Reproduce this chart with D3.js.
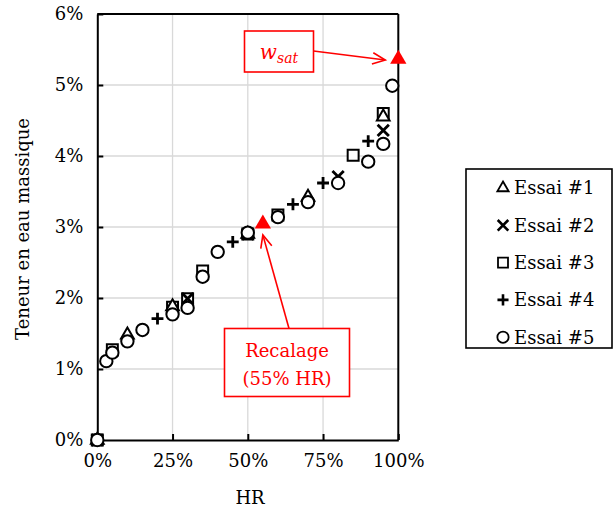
<!DOCTYPE html>
<html><head><meta charset="utf-8">
<script src="https://cdn.jsdelivr.net/npm/d3@7"></script>
<style>body{margin:0;background:#fff}svg{display:block}</style>
</head><body>
<script>
// ---- data ----
const xTicks = [0, 25, 50, 75, 100];
const yTicks = [0, 1, 2, 3, 4, 5, 6];
const seriesNames = ["Essai #1", "Essai #2", "Essai #3", "Essai #4", "Essai #5"];
const hr1 = [0, 10, 25, 50, 70, 95];
const w1  = [0, 1.48, 1.88, 2.90, 3.42, 4.55];
const hr2 = [0, 30, 50, 80, 95];
const w2  = [0, 1.99, 2.90, 3.71, 4.36];
const hr3 = [0, 5, 25, 30, 35, 50, 60, 85, 95];
const w3  = [0, 1.27, 1.87, 1.99, 2.38, 2.90, 3.17, 4.01, 4.60];
const hr4 = [0, 20, 45, 65, 75, 90];
const w4  = [0, 1.71, 2.79, 3.32, 3.62, 4.21];
const hr5 = [0, 3, 5, 10, 15, 25, 30, 35, 40, 50, 60, 70, 80, 90, 95, 98];
const w5  = [0, 1.11, 1.23, 1.39, 1.55, 1.77, 1.86, 2.30, 2.65, 2.92, 3.14, 3.35, 3.62, 3.92, 4.17, 4.99];
const redHR = [55, 100];
const redW  = [3.03, 5.35];
const redLabels = ["Recalage|(55% HR)", "wsat"];

const W = 615, H = 514;
const FONT = "DejaVu Serif";
const svg = d3.select("body").append("svg").attr("width", W).attr("height", H);

const x = d3.scaleLinear().domain([0, 100]).range([97.3, 398.3]);
const y = d3.scaleLinear().domain([0, 6]).range([440, 14]);

// grid
const g = svg.append("g");
g.selectAll(".gx").data(xTicks.slice(1, -1)).join("line")
  .attr("x1", d => x(d)).attr("x2", d => x(d)).attr("y1", y(0)).attr("y2", y(6))
  .attr("stroke", "#d9d9d9").attr("stroke-width", 1.3);
g.selectAll(".gy").data(yTicks.slice(1, -1)).join("line")
  .attr("y1", d => y(d)).attr("y2", d => y(d)).attr("x1", x(0)).attr("x2", x(100))
  .attr("stroke", "#d9d9d9").attr("stroke-width", 1.3);

// frame top/right
svg.append("line").attr("x1", x(0)).attr("x2", x(100)).attr("y1", y(6)).attr("y2", y(6)).attr("stroke", "#000").attr("stroke-width", 2);
svg.append("line").attr("x1", x(100)).attr("x2", x(100)).attr("y1", y(0)).attr("y2", y(6)).attr("stroke", "#000").attr("stroke-width", 2);

// axes
const xAxis = d3.axisBottom(x).tickValues(xTicks).tickFormat(d => d + "%").tickSizeInner(-6).tickSizeOuter(0).tickPadding(14);
const yAxis = d3.axisLeft(y).tickValues(yTicks).tickFormat(d => d + "%").tickSizeInner(-6).tickSizeOuter(0).tickPadding(14);
const gx = svg.append("g").attr("transform", `translate(0,${y(0)})`).call(xAxis);
const gy = svg.append("g").attr("transform", `translate(${x(0)},0)`).call(yAxis);
[gx, gy].forEach(a => {
  a.select(".domain").attr("stroke", "#000").attr("stroke-width", 2);
  a.selectAll(".tick line").attr("stroke", "#000").attr("stroke-width", 2);
  a.selectAll("text").attr("font-family", FONT).attr("font-size", 18).attr("fill", "#000");
});
gx.selectAll("text").attr("dy", "0.71em");

svg.append("text").attr("x", 250).attr("y", 504).attr("text-anchor", "middle")
  .attr("font-family", FONT).attr("font-size", 18).text("HR");
svg.append("text").attr("transform", "translate(29,229) rotate(-90)").attr("text-anchor", "middle")
  .attr("font-family", FONT).attr("font-size", 18).text("Teneur en eau massique");

// markers
const sym = {
  tri: d3.symbol().type(d3.symbolTriangle).size(70),
  sq: d3.symbol().type(d3.symbolSquare).size(120),
  circ: d3.symbol().type(d3.symbolCircle).size(120),
  cross: d3.symbol().type(d3.symbolTimes).size(85),
  plus: d3.symbol().type(d3.symbolPlus).size(48)
};
function drawSeries(hr, w, kind) {
  const pts = hr.map((h, i) => [h, w[i]]);
  const sel = svg.append("g").selectAll("path").data(pts).join("path")
    .attr("transform", d => `translate(${x(d[0])},${y(d[1])})`)
    .attr("d", sym[kind]);
  if (kind === "cross" || kind === "plus") sel.attr("fill", "none").attr("stroke", "#000").attr("stroke-width", 2.8);
  else sel.attr("fill", "#fff").attr("stroke", "#000").attr("stroke-width", 2);
}
const kinds = ["tri", "cross", "sq", "plus", "circ"];
drawSeries(hr3, w3, "sq");
drawSeries(hr1, w1, "tri");
drawSeries(hr2, w2, "cross");
drawSeries(hr4, w4, "plus");
drawSeries(hr5, w5, "circ");

// red triangles
svg.append("g").selectAll("path").data(redHR.map((h, i) => [h, redW[i]])).join("path")
  .attr("transform", d => `translate(${x(d[0])},${y(d[1]) - 1})`)
  .attr("d", d3.symbol().type(d3.symbolTriangle).size(115)).attr("fill", "#ff0000");

// annotations
const red = "#ff0000";
function arrow(x1, y1, x2, y2) {
  svg.append("line").attr("x1", x1).attr("y1", y1).attr("x2", x2).attr("y2", y2).attr("stroke", red).attr("stroke-width", 1.6);
  const a = Math.atan2(y2 - y1, x2 - x1), L = 14, s = 0.42;
  const p = [[x2 - L * Math.cos(a - s), y2 - L * Math.sin(a - s)], [x2, y2], [x2 - L * Math.cos(a + s), y2 - L * Math.sin(a + s)]];
  svg.append("path").attr("d", d3.line()(p)).attr("fill", "none").attr("stroke", red).attr("stroke-width", 1.6);
}
// wsat box
svg.append("rect").attr("x", 244.5).attr("y", 31).attr("width", 69).attr("height", 41).attr("fill", "#fff").attr("stroke", red).attr("stroke-width", 1.6);
const wt = svg.append("text").attr("x", 279).attr("y", 59).attr("text-anchor", "middle").attr("font-family", FONT).attr("fill", red).attr("font-style", "italic");
wt.append("tspan").attr("font-size", 20).text(redLabels[1].slice(0, 1));
wt.append("tspan").attr("font-size", 14).attr("dy", 4).text(redLabels[1].slice(1));
arrow(313.5, 51, x(redHR[1]) - 13, 60);

// recalage box
svg.append("rect").attr("x", 224.5).attr("y", 328.5).attr("width", 125).attr("height", 68).attr("fill", "#fff").attr("stroke", red).attr("stroke-width", 1.6);
redLabels[0].split("|").forEach((t, i) => {
  svg.append("text").attr("x", 287).attr("y", 357 + i * 28).attr("text-anchor", "middle")
    .attr("font-family", FONT).attr("font-size", 18).attr("fill", red).text(t);
});
arrow(289, 328.5, x(redHR[0]), y(redW[0]) + 10);

// legend
svg.append("rect").attr("x", 466).attr("y", 169).attr("width", 146).attr("height", 179).attr("fill", "#fff").attr("stroke", "#000").attr("stroke-width", 1.6);
const lsym = {
  tri: d3.symbol().type(d3.symbolTriangle).size(55),
  sq: d3.symbol().type(d3.symbolSquare).size(100),
  circ: d3.symbol().type(d3.symbolCircle).size(100),
  cross: d3.symbol().type(d3.symbolTimes).size(75),
  plus: d3.symbol().type(d3.symbolPlus).size(42)
};
seriesNames.forEach((n, i) => {
  const yy = 188 + i * 37.3;
  const k = kinds[i];
  const p = svg.append("path").attr("transform", `translate(503,${yy})`).attr("d", lsym[k]);
  if (k === "cross" || k === "plus") p.attr("fill", "none").attr("stroke", "#000").attr("stroke-width", 2.6);
  else p.attr("fill", "#fff").attr("stroke", "#000").attr("stroke-width", 1.8);
  svg.append("text").attr("x", 514).attr("y", yy).attr("dy", "0.35em")
    .attr("font-family", FONT).attr("font-size", 18).text(n);
});
</script>
</body></html>
